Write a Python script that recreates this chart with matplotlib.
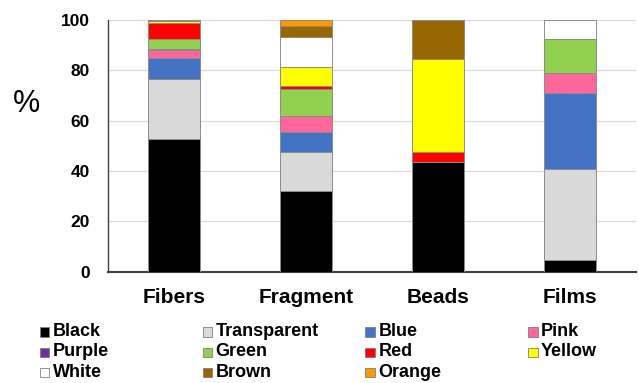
import numpy as np
import matplotlib
matplotlib.use('Agg')
from matplotlib import pyplot as plt
from matplotlib.patches import Rectangle

plt.rcParams['font.family'] = ['Liberation Sans', 'DejaVu Sans']

categories = ['Fibers', 'Fragment', 'Beads', 'Films']
colours = ['Black', 'Transparent', 'Blue', 'Pink', 'Purple', 'Green',
           'Red', 'Yellow', 'White', 'Brown', 'Orange']
fills = ['#000000', '#D9D9D9', '#4472C4', '#FF6699', '#7030A0', '#92D050',
         '#FF0000', '#FFFF00', '#FFFFFF', '#996600', '#FF9900']

# percent of each colour per particle type (Fibers, Fragment, Beads, Films)
black       = [52.5, 31.9, 43.5, 4.4]
transparent = [24.1, 15.6, 0.0, 36.4]
blue        = [8.4, 8.0, 0.0, 30.0]
pink        = [2.9, 6.3, 0.0, 8.0]
purple      = [0.5, 0.0, 0.0, 0.0]
green       = [4.0, 10.7, 0.0, 13.6]
red         = [6.4, 1.1, 3.9, 0.0]
yellow      = [0.8, 7.8, 37.2, 0.0]
white       = [0.0, 11.7, 0.0, 7.6]
brown       = [0.4, 4.5, 15.4, 0.0]
orange      = [0.0, 2.4, 0.0, 0.0]
series = [black, transparent, blue, pink, purple, green,
          red, yellow, white, brown, orange]

yticks = [0, 20, 40, 60, 80, 100]

fig = plt.figure(figsize=(6.38, 3.83), dpi=100)
ax = fig.add_axes([108/638, 1-271.5/383, 528/638, 251.5/383])

x = np.arange(len(categories))
bottom = np.zeros(len(categories))
for vals, col in zip(series, fills):
    vals = np.array(vals)
    lw = np.where(vals > 0, 0.7, 0.0)
    ax.bar(x, vals, 0.4, bottom=bottom, color=col, edgecolor='#8C8C8C',
           linewidth=lw, zorder=3)
    bottom += vals

ax.set_xlim(-0.5, 3.5)
ax.set_ylim(0, 100)
ax.set_yticks(yticks)
ax.set_yticklabels([str(t) for t in yticks], fontsize=12.5, fontweight='bold')
ax.set_xticks(x)
ax.set_xticklabels(categories, fontsize=15, fontweight='bold')
ax.tick_params(axis='y', length=0, pad=13)
ax.tick_params(axis='x', length=0, pad=12)
ax.yaxis.grid(True, color='#D9D9D9', linewidth=0.8, zorder=0)
ax.set_axisbelow(True)
for s in ['top', 'right']:
    ax.spines[s].set_visible(False)
ax.spines['left'].set_color('#404040')
ax.spines['left'].set_linewidth(1.0)
ax.spines['bottom'].set_color('#404040')
ax.spines['bottom'].set_linewidth(1.5)

fig.text(27/638, 1-104/383, '%', fontsize=22, ha='center', va='center')

# legend laid out row by row, four entries per row
W, H = 638, 383
for i, (name, col) in enumerate(zip(colours, fills)):
    r, c = divmod(i, 4)
    cx = 40 + c * 162.7
    cy = 331.7 + r * 20.3
    fig.add_artist(Rectangle((cx/W, 1-(cy+5)/H), 9.5/W, 9.5/H,
                             transform=fig.transFigure, facecolor=col,
                             edgecolor='#7F7F7F', linewidth=0.6))
    fig.text((cx+13)/W, 1-cy/H, name, fontsize=13, fontweight='bold',
             ha='left', va='center')

fig.savefig('out.png', dpi=100)
